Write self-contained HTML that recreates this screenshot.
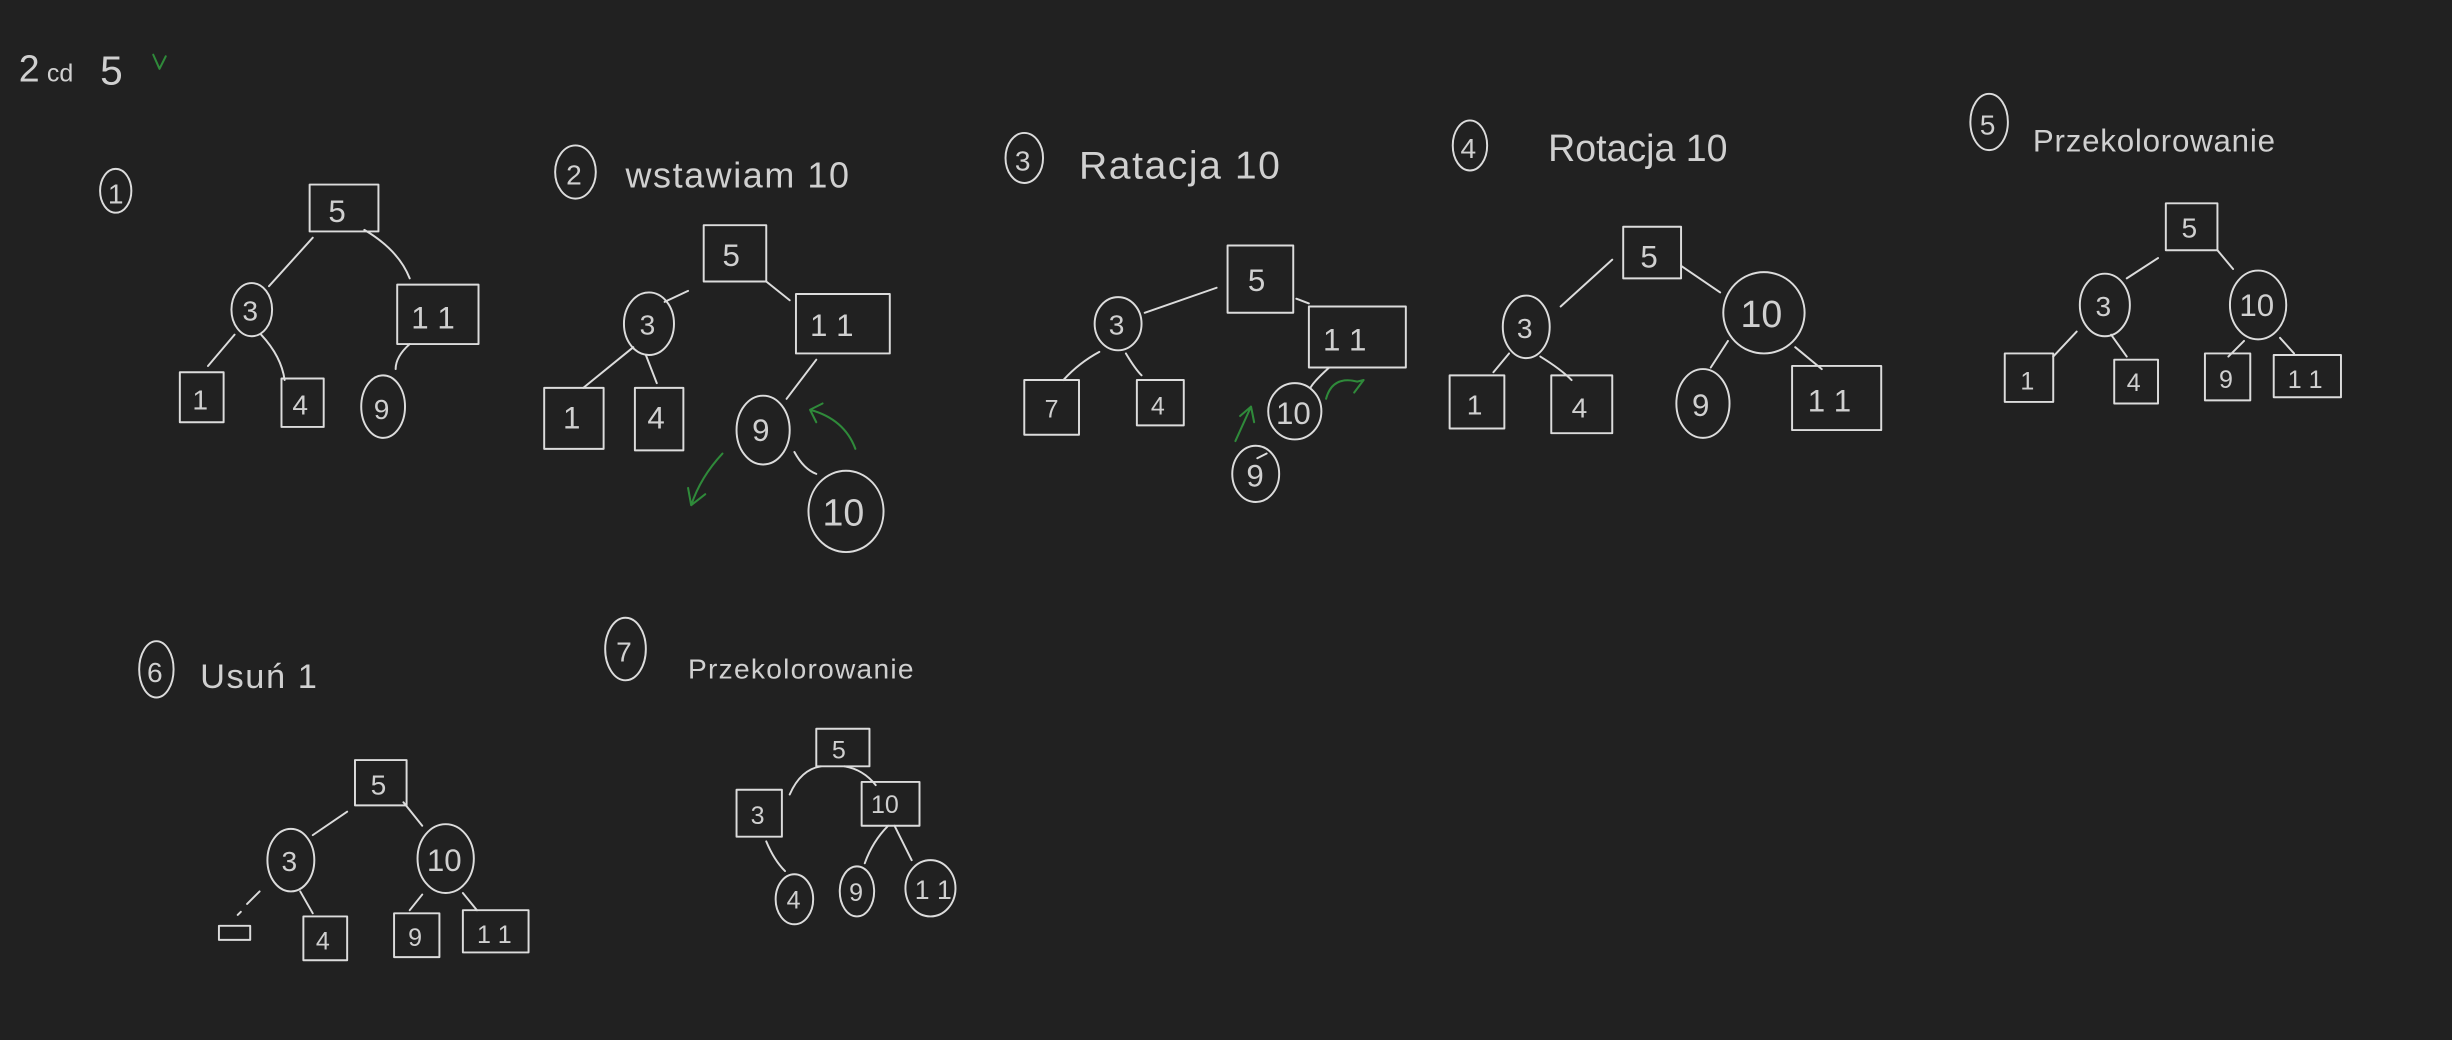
<!DOCTYPE html>
<html><head><meta charset="utf-8"><style>
html,body{margin:0;padding:0;background:#212121;width:2452px;height:1040px;overflow:hidden}
svg{display:block}
text{font-family:"Liberation Sans",sans-serif;fill:#d0d0d0;font-weight:normal}
.s{fill:none;stroke:#dcdcdc;stroke-width:1.25;stroke-linecap:round;stroke-linejoin:round}
.g{fill:none;stroke:#2f8a3a;stroke-width:1.3;stroke-linecap:round;stroke-linejoin:round}
</style></head><body>
<svg width="2452" height="1040" viewBox="0 0 1568 665" preserveAspectRatio="none">
<rect width="1568" height="665" fill="#212121"/>
<!-- title -->
<text x="12" y="52" font-size="24">2</text>
<text x="30" y="52" font-size="16">cd</text>
<text x="64" y="54" font-size="26">5</text>
<path class="g" d="M98 35 L102 44 L106 36"/>

<!-- Tree 1 -->
<ellipse class="s" cx="74" cy="122" rx="10" ry="14"/><text x="69" y="130" font-size="18">1</text>
<rect class="s" x="198" y="118" width="44" height="30"/><text x="210" y="142" font-size="20">5</text>
<ellipse class="s" cx="161" cy="198" rx="13" ry="17"/><text x="155" y="205" font-size="18">3</text>
<rect class="s" x="254" y="182" width="52" height="38"/><text x="263" y="210" font-size="20">1 1</text>
<rect class="s" x="115" y="238" width="28" height="32"/><text x="123" y="262" font-size="18">1</text>
<rect class="s" x="180" y="242" width="27" height="31"/><text x="187" y="265" font-size="18">4</text>
<ellipse class="s" cx="245" cy="260" rx="14" ry="20"/><text x="239" y="268" font-size="18">9</text>
<path class="s" d="M200 152 L172 183 M233 147 Q255 160 262 178 M150 214 L133 234 M167 214 Q180 228 182 243 M262 220 Q253 228 253 236"/>

<!-- Tree 2 -->
<ellipse class="s" cx="368" cy="110" rx="13" ry="17"/><text x="362" y="118" font-size="18">2</text>
<text x="400" y="120" font-size="23" letter-spacing="1">wstawiam 10</text>
<rect class="s" x="450" y="144" width="40" height="36"/><text x="462" y="170" font-size="20">5</text>
<ellipse class="s" cx="415" cy="207" rx="16" ry="20"/><text x="409" y="214" font-size="18">3</text>
<rect class="s" x="509" y="188" width="60" height="38"/><text x="518" y="215" font-size="20">1 1</text>
<rect class="s" x="348" y="248" width="38" height="39"/><text x="360" y="274" font-size="20">1</text>
<rect class="s" x="406" y="248" width="31" height="40"/><text x="414" y="274" font-size="20">4</text>
<ellipse class="s" cx="488" cy="275" rx="17" ry="22"/><text x="481" y="282" font-size="20">9</text>
<ellipse class="s" cx="541" cy="327" rx="24" ry="26"/><text x="526" y="336" font-size="24">10</text>
<path class="s" d="M440 186 L425 193 M490 180 L505 192 M405 222 L373 248 M413 227 L420 245 M522 230 L503 255 M508 289 Q514 300 522 303"/>
<path class="g" d="M547 287 Q540 268 518 262 M518 262 L526 258 M518 262 L522 270"/>
<path class="g" d="M462 290 Q448 305 442 323 M442 323 L440 312 M442 323 L451 316"/>

<!-- Tree 3 -->
<ellipse class="s" cx="655" cy="101" rx="12" ry="16"/><text x="649" y="109" font-size="18">3</text>
<text x="690" y="114" font-size="25" letter-spacing="1">Ratacja 10</text>
<rect class="s" x="785" y="157" width="42" height="43"/><text x="798" y="186" font-size="20">5</text>
<ellipse class="s" cx="715" cy="207" rx="15" ry="17"/><text x="709" y="214" font-size="18">3</text>
<rect class="s" x="837" y="196" width="62" height="39"/><text x="846" y="224" font-size="20">1 1</text>
<rect class="s" x="655" y="243" width="35" height="35"/><text x="668" y="267" font-size="16">7</text>
<rect class="s" x="727" y="243" width="30" height="29"/><text x="736" y="265" font-size="16">4</text>
<ellipse class="s" cx="828" cy="263" rx="17" ry="18"/><text x="816" y="271" font-size="20">10</text>
<ellipse class="s" cx="803" cy="303" rx="15" ry="18"/><text x="797" y="311" font-size="20">9</text>
<path class="s" d="M732 200 L778 184 M829 191 L837 194 M703 225 Q690 232 680 243 M720 226 Q726 236 730 240 M850 235 Q840 244 838 248 M810 290 L804 293"/>
<path class="g" d="M790 282 L800 260 M800 260 L793 266 M800 260 L802 270"/>
<path class="g" d="M848 255 Q852 240 868 244 L872 243 M872 243 L866 251"/>

<!-- Tree 4 -->
<ellipse class="s" cx="940" cy="93" rx="11" ry="16"/><text x="934" y="101" font-size="18">4</text>
<text x="990" y="103" font-size="24">Rotacja 10</text>
<rect class="s" x="1038" y="145" width="37" height="33"/><text x="1049" y="171" font-size="20">5</text>
<ellipse class="s" cx="976" cy="209" rx="15" ry="20"/><text x="970" y="216" font-size="18">3</text>
<ellipse class="s" cx="1128" cy="200" rx="26" ry="26"/><text x="1113" y="209" font-size="24">10</text>
<rect class="s" x="927" y="240" width="35" height="34"/><text x="938" y="265" font-size="18">1</text>
<rect class="s" x="992" y="240" width="39" height="37"/><text x="1005" y="267" font-size="18">4</text>
<ellipse class="s" cx="1089" cy="258" rx="17" ry="22"/><text x="1082" y="266" font-size="20">9</text>
<rect class="s" x="1146" y="234" width="57" height="41"/><text x="1156" y="263" font-size="20">1 1</text>
<path class="s" d="M1031 166 L998 196 M1075 170 L1100 187 M965 226 L955 238 M985 228 Q998 236 1005 243 M1105 218 L1094 235 M1148 222 L1165 236"/>

<!-- Tree 5 -->
<ellipse class="s" cx="1272" cy="78" rx="12" ry="18"/><text x="1266" y="86" font-size="18">5</text>
<text x="1300" y="97" font-size="20" letter-spacing="0.5">Przekolorowanie</text>
<rect class="s" x="1385" y="130" width="33" height="30"/><text x="1395" y="152" font-size="18">5</text>
<ellipse class="s" cx="1346" cy="195" rx="16" ry="20"/><text x="1340" y="202" font-size="18">3</text>
<ellipse class="s" cx="1444" cy="195" rx="18" ry="22"/><text x="1432" y="202" font-size="20">10</text>
<rect class="s" x="1282" y="226" width="31" height="31"/><text x="1292" y="249" font-size="16">1</text>
<rect class="s" x="1352" y="230" width="28" height="28"/><text x="1360" y="250" font-size="16">4</text>
<rect class="s" x="1410" y="226" width="29" height="30"/><text x="1419" y="248" font-size="16">9</text>
<rect class="s" x="1454" y="227" width="43" height="27"/><text x="1463" y="248" font-size="16">1 1</text>
<path class="s" d="M1380 165 L1360 178 M1418 160 L1428 172 M1328 212 L1313 228 M1350 214 L1360 228 M1435 218 L1425 228 M1458 216 L1467 226"/>

<!-- Tree 6 -->
<ellipse class="s" cx="100" cy="428" rx="11" ry="18"/><text x="94" y="436" font-size="18">6</text>
<text x="128" y="440" font-size="22" letter-spacing="1">Usuń 1</text>
<rect class="s" x="227" y="486" width="33" height="29"/><text x="237" y="508" font-size="18">5</text>
<ellipse class="s" cx="186" cy="550" rx="15" ry="20"/><text x="180" y="557" font-size="18">3</text>
<ellipse class="s" cx="285" cy="549" rx="18" ry="22"/><text x="273" y="557" font-size="20">10</text>
<rect class="s" x="140" y="592" width="20" height="9"/>
<rect class="s" x="194" y="586" width="28" height="28"/><text x="202" y="607" font-size="16">4</text>
<rect class="s" x="252" y="584" width="29" height="28"/><text x="261" y="605" font-size="16">9</text>
<rect class="s" x="296" y="582" width="42" height="27"/><text x="305" y="603" font-size="16">1 1</text>
<path class="s" d="M222 519 L200 534 M258 513 L270 528 M166 570 L158 578 M154 583 L152 585 M192 570 L200 584 M270 572 L262 582 M296 571 L305 582"/>

<!-- Tree 7 -->
<ellipse class="s" cx="400" cy="415" rx="13" ry="20"/><text x="394" y="423" font-size="18">7</text>
<text x="440" y="434" font-size="18" letter-spacing="0.8">Przekolorowanie</text>
<rect class="s" x="522" y="466" width="34" height="24"/><text x="532" y="485" font-size="16">5</text>
<rect class="s" x="471" y="505" width="29" height="30"/><text x="480" y="527" font-size="16">3</text>
<rect class="s" x="551" y="500" width="37" height="28"/><text x="557" y="520" font-size="16">10</text>
<ellipse class="s" cx="508" cy="575" rx="12" ry="16"/><text x="503" y="581" font-size="16">4</text>
<ellipse class="s" cx="548" cy="570" rx="11" ry="16"/><text x="543" y="576" font-size="16">9</text>
<ellipse class="s" cx="595" cy="568" rx="16" ry="18"/><text x="585" y="575" font-size="17">1 1</text>
<path class="s" d="M505 508 Q512 492 525 490 M540 490 Q552 492 560 502 M490 538 Q495 550 502 557 M568 528 Q558 538 553 552 M572 528 Q578 540 583 550"/>
</svg>
</body></html>
